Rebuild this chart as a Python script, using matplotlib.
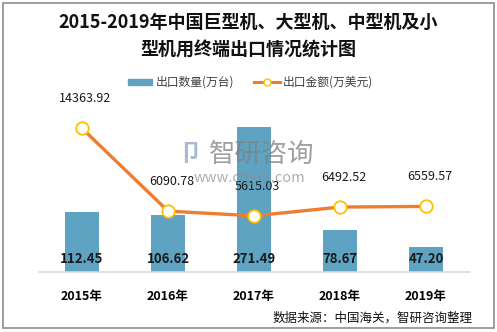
import matplotlib
matplotlib.use('Agg')
import matplotlib.pyplot as plt
from matplotlib.patches import Rectangle
import numpy as np

plt.rcParams['font.family'] = ['Noto Sans CJK SC', 'DejaVu Sans']

years = ['2015年', '2016年', '2017年', '2018年', '2019年']
qty = [112.45, 106.62, 271.49, 78.67, 47.20]
amount = [14363.92, 6090.78, 5615.03, 6492.52, 6559.57]

W, H = 497, 332
fig = plt.figure(figsize=(W / 100, H / 100), dpi=100)

# outer frame
fig.patches.append(Rectangle((3 / W, 4 / H), 491 / W, 325 / H, transform=fig.transFigure,
                             fill=False, edgecolor='#8c8c8c', linewidth=1.2))

# plot area: x 39..469, y 112..272 (pixels from top)
ax = fig.add_axes([39 / W, (H - 272) / H, 430 / W, 160 / H])
x = np.arange(len(years))
ax.bar(x, qty, width=0.40, color='#5FA3C3', zorder=2)
ax.set_ylim(0, 300)
ax.set_xlim(-0.5, len(years) - 0.5)
ax.set_yticks([])
ax.set_xticks(x)
ax.set_xticklabels(years, fontsize=9, fontweight='bold')
ax.tick_params(axis='x', length=0, pad=13)
for s in ['top', 'left', 'right']:
    ax.spines[s].set_visible(False)
ax.spines['bottom'].set_color('#d9d9d9')
ax.spines['bottom'].set_linewidth(1.2)
for xi, v in zip(x, qty):
    ax.text(xi, 24, f'{v:.2f}', ha='center', va='center', fontsize=9.5,
            fontweight='bold', color='#1a1a1a', zorder=4)

ax2 = ax.twinx()
ax2.plot(x, amount, color='#ED7D31', linewidth=2.4, marker='o', markersize=9,
         markerfacecolor='white', markeredgecolor='#FFC000', markeredgewidth=1.3, zorder=3)
ax2.set_ylim(0, 16000)
ax2.set_yticks([])
for s in ['top', 'left', 'right', 'bottom']:
    ax2.spines[s].set_visible(False)
for xi, v in zip(x, amount):
    ax2.text(xi + 0.04, v + 2950, f'{v:.2f}', ha='center', va='center', fontsize=9,
             color='#1a1a1a', zorder=4)

# watermark
fig.text(262 / W, 1 - 154 / H, '智研咨询', fontsize=19, color='#7f7f7f', alpha=0.75,
         ha='center', va='center')
fig.text(190 / W, 1 - 154 / H, '卩', fontsize=17, color='#8fa8c8', alpha=0.8,
         ha='center', va='center', fontweight='bold')
fig.text(249 / W, 1 - 178 / H, 'www.chyxx.com', fontsize=10.5, color='#8c8c8c', alpha=0.7,
         ha='center', va='center')

# title
fig.text(0.5, 1 - 22 / H, '2015-2019年中国巨型机、大型机、中型机及小', fontsize=13,
         fontweight='bold', ha='center', va='center', color='#111111')
fig.text(0.5, 1 - 50 / H, '型机用终端出口情况统计图', fontsize=13,
         fontweight='bold', ha='center', va='center', color='#111111')

# legend
fig.patches.append(Rectangle((128 / W, 1 - 85 / H), 24 / W, 6 / H, transform=fig.transFigure,
                             color='#5FA3C3'))
fig.text(156 / W, 1 - 82 / H, '出口数量(万台)', fontsize=8.5, color='#404040', va='center')
fig.lines.append(plt.Line2D([254 / W, 280 / W], [1 - 82 / H, 1 - 82 / H], transform=fig.transFigure,
                            color='#ED7D31', linewidth=2.2))
fig.lines.append(plt.Line2D([267 / W], [1 - 82 / H], transform=fig.transFigure, marker='o',
                            markersize=5, markerfacecolor='white', markeredgecolor='#FFC000',
                            linestyle='none'))
fig.text(283 / W, 1 - 82 / H, '出口金额(万美元)', fontsize=8.5, color='#404040', va='center')

# source
fig.text(473 / W, 1 - 318 / H, '数据来源：中国海关，智研咨询整理', fontsize=9, ha='right',
         va='center', color='#111111')

fig.savefig('out.png', dpi=100)
